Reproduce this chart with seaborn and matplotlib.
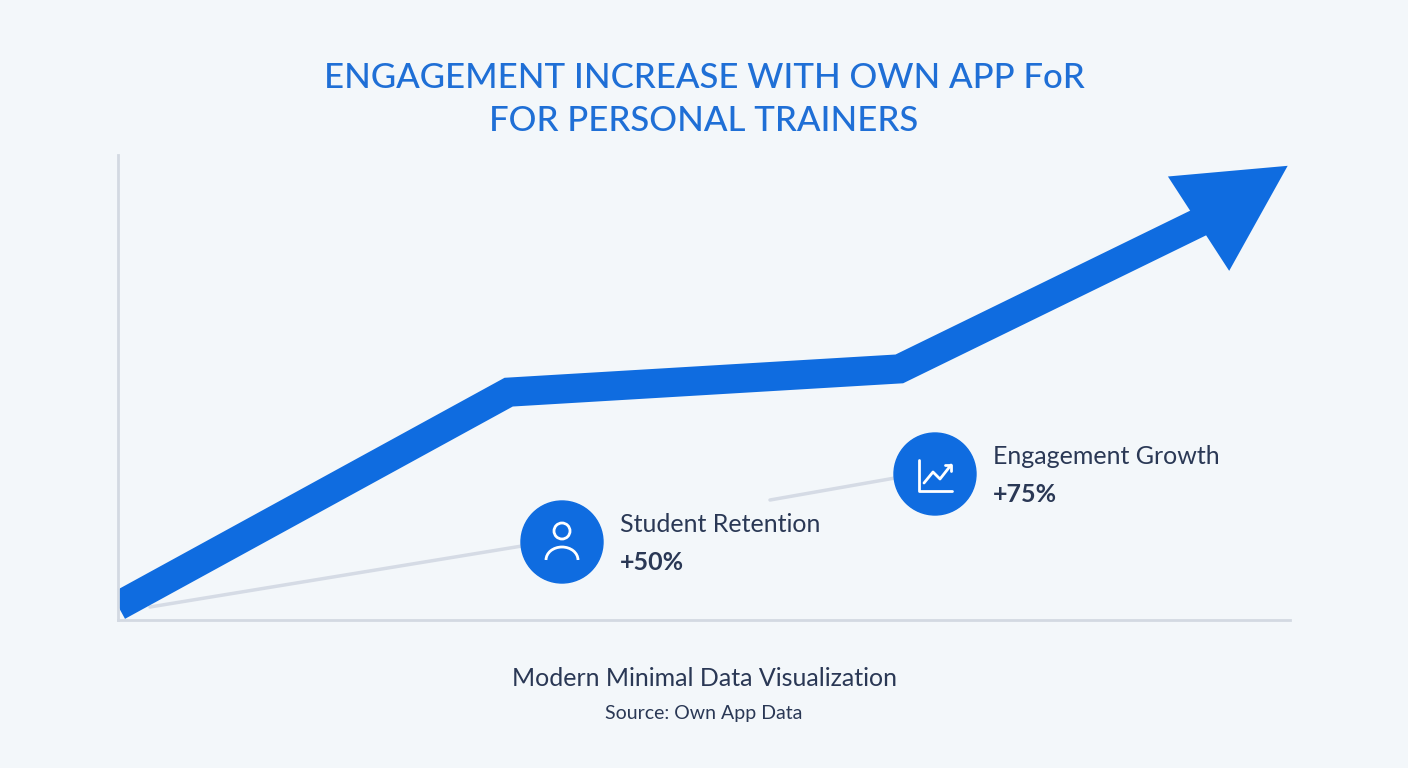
import matplotlib
matplotlib.use("Agg")
from matplotlib import pyplot as plt
from matplotlib.patches import Circle, Arc
import pandas as pd
import seaborn as sns

# data
stages = [0, 1, 2, 2.78]
engagement = [3, 49, 54, 86]
arrow_tip = (3.0, 98)
callouts = ["Student Retention", "Engagement Growth"]
callout_values = ["+50%", "+75%"]

BG = "#f3f7fa"
BLUE = "#0f6ce0"
DARK = "#2a3855"

sns.set_theme(style="white")
plt.rcParams['font.family'] = ['Lato', 'DejaVu Sans']

fig = plt.figure(figsize=(14.08, 7.68), dpi=100, facecolor=BG)
ax = fig.add_axes([118/1408, 1-620/768, 1172/1408, 465/768], facecolor=BG)

df = pd.DataFrame({"stage": stages, "engagement": engagement})
sns.lineplot(data=df, x="stage", y="engagement", color=BLUE, linewidth=21,
             solid_capstyle="butt", solid_joinstyle="miter", ax=ax, clip_on=True)
ax.annotate("", xy=arrow_tip, xytext=(stages[-1], engagement[-1]),
            arrowprops=dict(arrowstyle="-|>,head_length=0.85,head_width=0.45",
                            mutation_scale=90, color=BLUE, lw=0), annotation_clip=False)

ax.set_xlim(0, 3)
ax.set_ylim(0, 100)
ax.set_xticks([]); ax.set_yticks([])
ax.set_xlabel(""); ax.set_ylabel("")
for s in ["top", "right"]:
    ax.spines[s].set_visible(False)
for s in ["left", "bottom"]:
    ax.spines[s].set_color("#d3d9e2"); ax.spines[s].set_linewidth(2)

# connector lines (px converted to data)
def d(px, py):
    return ((px-118)/1172*3, (620-py)/465*100)
for (a, b) in [((150, 607), (522, 546)), ((770, 500), (895, 478))]:
    p, q = d(*a), d(*b)
    ax.plot([p[0], q[0]], [p[1], q[1]], color="#d5dbe5", lw=2.5, zorder=1)

# icons
t = ax.transAxes
for (cx, cy) in [(562, 542), (935, 474)]:
    ax.add_patch(Circle(((cx-118)/1172, (620-cy)/465), 40/465, transform=None, color=BLUE, zorder=4))
for i, ((cx, cy), lab, val) in enumerate(zip([(562, 542), (935, 474)], callouts, callout_values)):
    fx, fy = cx/1408, 1-cy/768
    fig.patches.append(Circle((fx, fy), 0.0, transform=fig.transFigure))
    fig.text(fx + 58/1408, fy + 18/768, lab, fontsize=18, color=DARK, va="center")
    fig.text(fx + 58/1408, fy - 20/768, val, fontsize=18, color=DARK, va="center", fontweight="bold")
# replace patch circles with figure-level circles (proper aspect)
for p in list(ax.patches):
    p.remove()
for (cx, cy) in [(562, 542), (935, 474)]:
    fig.patches.append(plt.Circle((cx, 768-cy), 41, transform=None, color=BLUE, zorder=5))
# person icon
fig.patches.append(plt.Circle((562, 768-531), 8, transform=None, fill=False, ec="white", lw=2, zorder=6))
fig.patches.append(Arc((562, 768-560), 32, 26, theta1=0, theta2=180, transform=None, ec="white", lw=2, zorder=6))
# chart icon
fig.lines.append(plt.Line2D([919, 919, 952], [768-460, 768-491, 768-491], transform=None, color="white", lw=2, zorder=6))
fig.lines.append(plt.Line2D([924, 933, 940, 951], [768-483, 768-472, 768-479, 768-465], transform=None, color="white", lw=2, zorder=6))
fig.lines.append(plt.Line2D([945, 951, 951], [768-465, 768-465, 768-471], transform=None, color="white", lw=2, zorder=6))

fig.text(0.5, 1-78/768, "ENGAGEMENT INCREASE WITH OWN APP FoR", ha="center", va="center",
         fontsize=25, color="#1f6fd6", fontweight="medium")
fig.text(0.5, 1-121/768, "FOR PERSONAL TRAINERS", ha="center", va="center",
         fontsize=25, color="#1f6fd6", fontweight="medium")
fig.text(0.5, 1-678/768, "Modern Minimal Data Visualization", ha="center", va="center", fontsize=18, color=DARK)
fig.text(0.5, 1-713/768, "Source: Own App Data", ha="center", va="center", fontsize=14, color=DARK)

fig.savefig("out.png", dpi=100, facecolor=BG)
